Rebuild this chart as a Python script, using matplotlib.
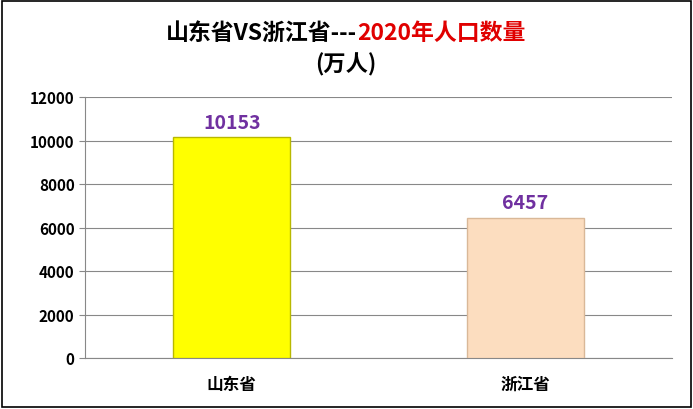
import matplotlib
matplotlib.use("Agg")
import matplotlib.pyplot as plt
from matplotlib.patches import Rectangle

plt.rcParams['font.family'] = ['Noto Sans CJK SC', 'DejaVu Sans']

categories = ["山东省", "浙江省"]
values = [10153, 6457]
colors = ["#FFFF00", "#FCDDBF"]
edges = ["#B8B800", "#D9B898"]
yticks = [0, 2000, 4000, 6000, 8000, 10000, 12000]

fig = plt.figure(figsize=(6.93, 4.10), dpi=100)
ax = fig.add_axes([85/693, 1-359/410, 587/693, 261/410])

x = list(range(len(categories)))
ax.bar(x, values, width=0.4, color=colors, edgecolor=edges, linewidth=1, zorder=3)
for xi, v in zip(x, values):
    ax.text(xi, v + 250, str(v), ha='center', va='bottom', fontsize=14,
            fontweight='bold', color='#7030A0')

ax.set_xlim(-0.5, 1.5)
ax.set_ylim(0, 12000)
ax.set_yticks(yticks)
ax.set_yticklabels([str(t) for t in yticks], fontsize=11, fontweight='bold')
ax.set_xticks(x)
ax.set_xticklabels(categories, fontsize=12, fontweight='bold')
ax.yaxis.grid(True, color='#888888', linewidth=0.8, zorder=0)
for s in ['top', 'right']:
    ax.spines[s].set_visible(False)
ax.spines['left'].set_color('#888888')
ax.spines['bottom'].set_color('#888888')
ax.tick_params(axis='x', length=0, pad=12)
ax.tick_params(axis='y', length=4, color='#888888')

fig.text(357/693, 1-33/410, "山东省VS浙江省---", ha='right', va='center',
         fontsize=16.5, fontweight='bold', color='black')
fig.text(357/693, 1-33/410, "2020年人口数量", ha='left', va='center',
         fontsize=16.5, fontweight='bold', color='#E00000')
fig.text(346/693, 1-65/410, "(万人)", ha='center', va='center',
         fontsize=16, fontweight='bold', color='black')

fig.patches.append(Rectangle((0.003, 0.004), 0.994, 0.992, transform=fig.transFigure,
                             fill=False, edgecolor='black', linewidth=1.2))

fig.savefig("out.png", dpi=100)
